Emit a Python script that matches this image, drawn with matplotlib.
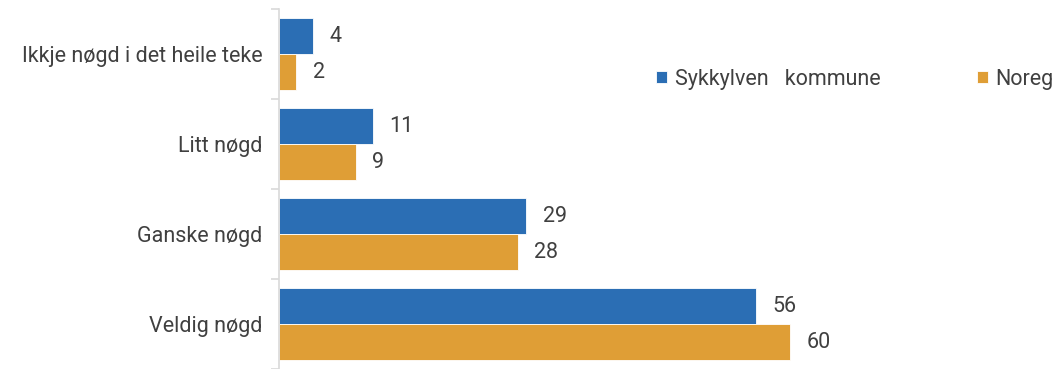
import matplotlib
matplotlib.use("Agg")
import matplotlib.pyplot as plt
import numpy as np

categories = ["Ikkje nøgd i det heile teke", "Litt nøgd", "Ganske nøgd", "Veldig nøgd"]
series_names = ["Sykkylven   kommune", "Noreg"]
sykkylven = [4, 11, 29, 56]
noreg = [2, 9, 28, 60]

colors = ["#2B6EB4", "#DF9E36"]
text_color = "#404040"
plt.rcParams['font.family'] = ['Roboto', 'DejaVu Sans']
FS = 15.5

W, H = 1058, 369
fig = plt.figure(figsize=(W / 100, H / 100), dpi=100)
ax = fig.add_axes([279 / W, 0.0, (1050 - 279) / W, 360 / H])

y = np.arange(len(categories))
h = 0.4
b1 = ax.barh(y - h / 2, sykkylven, height=h, color=colors[0], edgecolor="white", linewidth=0.6, label=series_names[0])
b2 = ax.barh(y + h / 2, noreg, height=h, color=colors[1], edgecolor="white", linewidth=0.6, label=series_names[1])

for bars, vals in ((b1, sykkylven), (b2, noreg)):
    for bar, v in zip(bars, vals):
        ax.annotate(str(v), (bar.get_width(), bar.get_y() + bar.get_height() / 2),
                    xytext=(12, 0), textcoords="offset points", ha="left", va="center",
                    fontsize=FS, color=text_color)

ax.set_xlim(0, 90.5)
ax.set_ylim(len(categories) - 0.5, -0.5)
ax.set_yticks(y)
ax.set_yticklabels(categories, fontsize=FS, color=text_color)
ax.tick_params(axis="y", length=0, pad=12)
ax.set_yticks(np.arange(len(categories) + 1) - 0.5, minor=True)
ax.tick_params(axis="y", which="minor", length=6, color="#D9D9D9", width=1.2)
ax.set_xticks([])
for s in ("top", "right", "bottom"):
    ax.spines[s].set_visible(False)
ax.spines["left"].set_color("#D9D9D9")
ax.spines["left"].set_linewidth(1.2)

leg = ax.legend(loc="center left", bbox_to_anchor=(637 / W, 1 - 79 / H), bbox_transform=fig.transFigure,
                ncol=2, frameon=False, fontsize=FS, handlelength=0.5, handleheight=0.5,
                handletextpad=0.35, columnspacing=4.5, labelcolor=text_color)

fig.savefig("out.png", dpi=100)
